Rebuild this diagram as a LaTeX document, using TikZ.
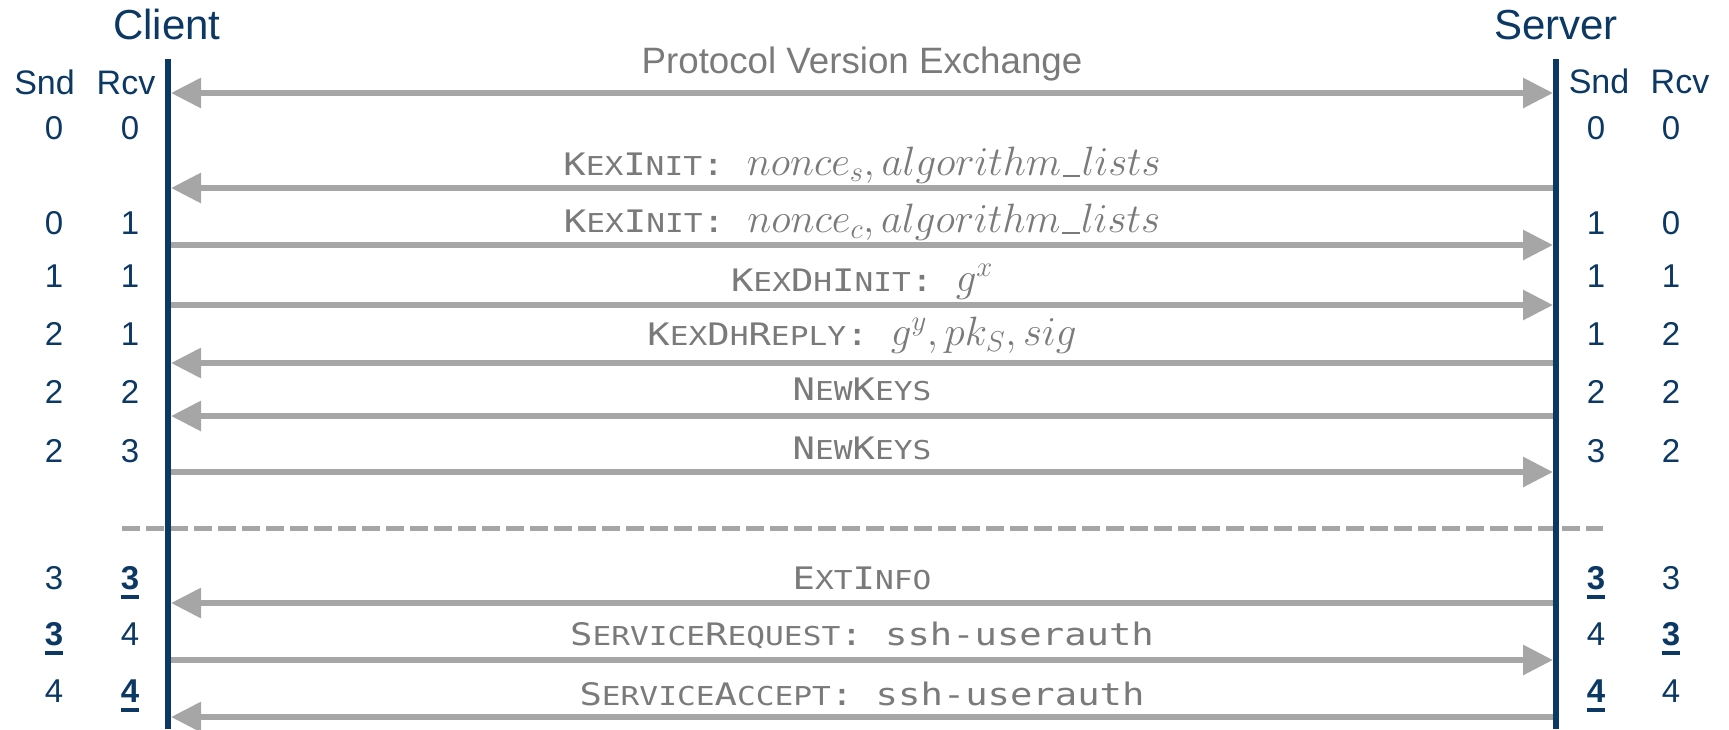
\documentclass[tikz,border=0pt]{standalone}
\usepackage{fix-cm}
\usepackage{fontspec}
\setmainfont{Liberation Sans}
\newfontfamily\lblfont[FakeStretch=1.2]{DejaVu Sans Mono}
\usetikzlibrary{arrows.meta}
\definecolor{navy}{RGB}{12,56,100}
\definecolor{arrowgrey}{RGB}{166,166,166}
\definecolor{textgrey}{RGB}{122,122,122}
\newcommand\smcp[1]{{\fontsize{26}{26}\selectfont #1}}
\newcommand\mth[1]{{\fontsize{41}{42}\selectfont$#1$}}
\newcommand\us{\mbox{\kern0.04em\raisebox{-0.06em}{\rule{0.42em}{0.05em}}\kern0.04em}}
\newcommand\bul[1]{\setbox0\hbox{\bfseries #1}\rlap{\raisebox{-9.5pt}{\rule{\wd0}{3.5pt}}}\box0}
\tikzset{
  lifeline/.style={draw=navy, line width=6pt},
  msg/.style={draw=arrowgrey, line width=6pt, -{Triangle[length=30pt,width=29pt]}},
  msgboth/.style={draw=arrowgrey, line width=6pt, {Triangle[length=30pt,width=29pt]}-{Triangle[length=30pt,width=29pt]}},
  sepline/.style={draw=arrowgrey, line width=5pt, dash pattern=on 18pt off 6pt},
  lbl/.style={text=textgrey, font=\lblfont\fontsize{31}{34}\selectfont, anchor=base, inner sep=0pt},
  plbl/.style={text=textgrey, font=\fontsize{36.7}{40}\selectfont, anchor=base, inner sep=0pt},
  title/.style={text=navy, font=\fontsize{42}{46}\selectfont, anchor=base, inner sep=0pt},
  colhead/.style={text=navy, font=\fontsize{34}{38}\selectfont, anchor=base, inner sep=0pt},
  num/.style={text=navy, font=\fontsize{33}{36}\selectfont, anchor=base, inner sep=0pt},
}
\begin{document}
\begin{tikzpicture}[x=1pt,y=-1pt]
\useasboundingbox (0,0) rectangle (1729,729);
% titles
\node[title] (client) at (167,39) {Client};
\node[title] (server) at (1556,39) {Server};
% column heads
\node[colhead] (csnd) at (44.5,94) {Snd};
\node[colhead] (crcv) at (126,94) {Rcv};
\node[colhead] (ssnd) at (1599,93) {Snd};
\node[colhead] (srcv) at (1680,93) {Rcv};
% counters
\foreach \y/\a/\b/\c/\d [count=\i] in {139/0/0/0/0, 234/0/1/1/0, 287/1/1/1/1, 345/2/1/1/2, 403/2/2/2/2, 462/2/3/3/2, 589/3/\bul{3}/\bul{3}/3, 645/\bul{3}/4/4/\bul{3}, 702/4/\bul{4}/\bul{4}/4}{
  \node[num] (ca\i) at (54,\y) {\a};
  \node[num] (cb\i) at (130,\y) {\b};
  \node[num] (sa\i) at (1596,\y) {\c};
  \node[num] (sb\i) at (1671,\y) {\d};
}
% arrow end coordinates
\foreach \y [count=\i] in {93,188,245,305,363,416,472,603,660,717}{
  \coordinate (c\i) at (171,\y);
  \coordinate (s\i) at (1553,\y);
}
% messages
\draw[msgboth] (c1) -- (s1);
\node[plbl] (l1) at (862,73) {Protocol Version Exchange};
\draw[msg] (s2) -- (c2);
\node[lbl] (l2) at (862,175) {K\smcp{EX}I\smcp{NIT}: \mth{nonce_s, algorithm\us lists}};
\draw[msg] (c3) -- (s3);
\node[lbl] (l3) at (862,232) {K\smcp{EX}I\smcp{NIT}: \mth{nonce_c, algorithm\us lists}};
\draw[msg] (c4) -- (s4);
\node[lbl] (l4) at (862,291) {K\smcp{EX}D\smcp{H}I\smcp{NIT}: \mth{g^x}};
\draw[msg] (s5) -- (c5);
\node[lbl] (l5) at (862,345) {K\smcp{EX}D\smcp{H}R\smcp{EPLY}: \mth{g^y, pk_S, sig}};
\draw[msg] (s6) -- (c6);
\node[lbl] (l6) at (862,400) {N\smcp{EW}K\smcp{EYS}};
\draw[msg] (c7) -- (s7);
\node[lbl] (l7) at (862,459) {N\smcp{EW}K\smcp{EYS}};
\draw[msg] (s8) -- (c8);
\node[lbl] (l8) at (862,589) {E\smcp{XT}I\smcp{NFO}};
\draw[msg] (c9) -- (s9);
\node[lbl] (l9) at (862,645) {S\smcp{ERVICE}R\smcp{EQUEST}: ssh-userauth};
\draw[msg] (s10) -- (c10);
\node[lbl] (l10) at (862,705) {S\smcp{ERVICE}A\smcp{CCEPT}: ssh-userauth};
% separator
\coordinate (dashL) at (122,528);
\coordinate (dashR) at (1603,528);
\draw[sepline] (dashL) -- (dashR);
% lifelines
\coordinate (ctop) at (168,59);
\coordinate (cbot) at (168,729);
\coordinate (stop) at (1556,59);
\coordinate (sbot) at (1556,729);
\draw[lifeline] (ctop) -- (cbot);
\draw[lifeline] (stop) -- (sbot);
\end{tikzpicture}
\end{document}
